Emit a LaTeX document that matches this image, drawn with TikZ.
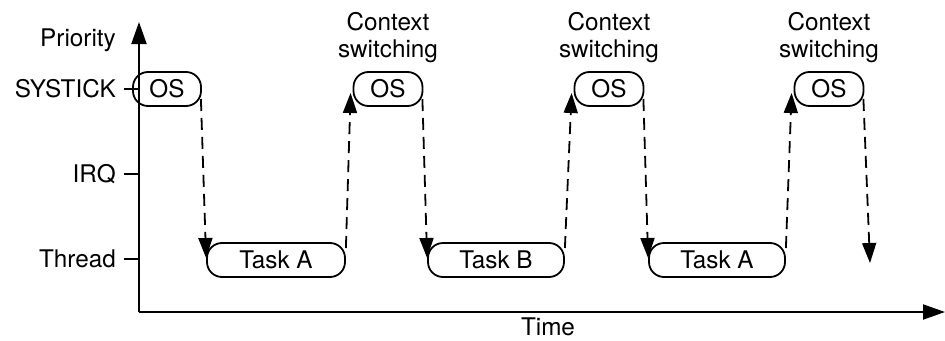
\documentclass[tikz,border=0pt]{standalone}
\usepackage{fontspec}
\setmainfont{TeX Gyre Heros}
\usetikzlibrary{arrows.meta,calc}
\begin{document}
\begin{tikzpicture}[x=1pt,y=-1pt,
  every node/.style={font=\fontsize{24.3}{27}\selectfont},
  axis/.style={line width=2pt,-{Triangle[length=22pt,width=15pt]}},
  tick/.style={line width=1.8pt},
  slot/.style={draw,line width=1.8pt,rounded corners=15pt,minimum height=34pt,inner sep=0pt},
  dasharrow/.style={line width=1.8pt,dash pattern=on 12pt off 7pt,-{Triangle[length=20pt,width=14pt]}},
  lvl/.style={anchor=east,inner sep=0pt}]
\useasboundingbox (0,0) rectangle (945,340);

% axes
\coordinate (o) at (139,312);
\coordinate (ytop) at (139,22);
\coordinate (xend) at (945,312);
\draw[axis] (o) -- (ytop);
\draw[axis] (o) -- (xend);

% priority levels
\foreach \y/\nm/\txt in {89/sys/SYSTICK,174/irq/IRQ,259/thr/Thread}{
  \coordinate (t\nm) at (139,\y);
  \draw[tick] (t\nm) -- ++(-15,0);
  \node[lvl] (l\nm) at (116,\y) {\txt};
}
\node[lvl] (lpri) at (116,40) {Priority};
\node[anchor=base,inner sep=0pt] (ltime) at (548,335) {Time};

% OS slots
\node[slot,minimum width=68pt] (os1) at (167,89) {OS};
\node[slot,minimum width=69pt] (os2) at (388,89) {OS};
\node[slot,minimum width=69pt] (os3) at (609,89) {OS};
\node[slot,minimum width=69pt] (os4) at (829,89) {OS};

% task slots
\node[slot,minimum width=138pt] (ta1) at (276,260) {Task A};
\node[slot,minimum width=136pt] (tb)  at (496,260) {Task B};
\node[slot,minimum width=136pt] (ta2) at (717,260) {Task A};

% context switching labels
\foreach \n in {os2,os3,os4}{
  \node[align=center,inner sep=0pt,anchor=south] (cs\n) at ($(\n.north)+(0,-8)$) {Context\\switching};
}

% transitions
\coordinate (end) at (870,263);
\draw[dasharrow] ($(os1.east)+(-1,10)$) -- ($(ta1.west)+(0,-2)$);
\draw[dasharrow] ($(ta1.east)+(0,-12)$) -- ($(os2.west)+(-2,4)$);
\draw[dasharrow] ($(os2.east)+(-1,10)$) -- ($(tb.west)+(0,-2)$);
\draw[dasharrow] ($(tb.east)+(0,-12)$) -- ($(os3.west)+(-2,4)$);
\draw[dasharrow] ($(os3.east)+(-1,10)$) -- ($(ta2.west)+(0,-2)$);
\draw[dasharrow] ($(ta2.east)+(0,-12)$) -- ($(os4.west)+(-2,4)$);
\draw[dasharrow] ($(os4.east)+(-1,10)$) -- (end);
\end{tikzpicture}
\end{document}
